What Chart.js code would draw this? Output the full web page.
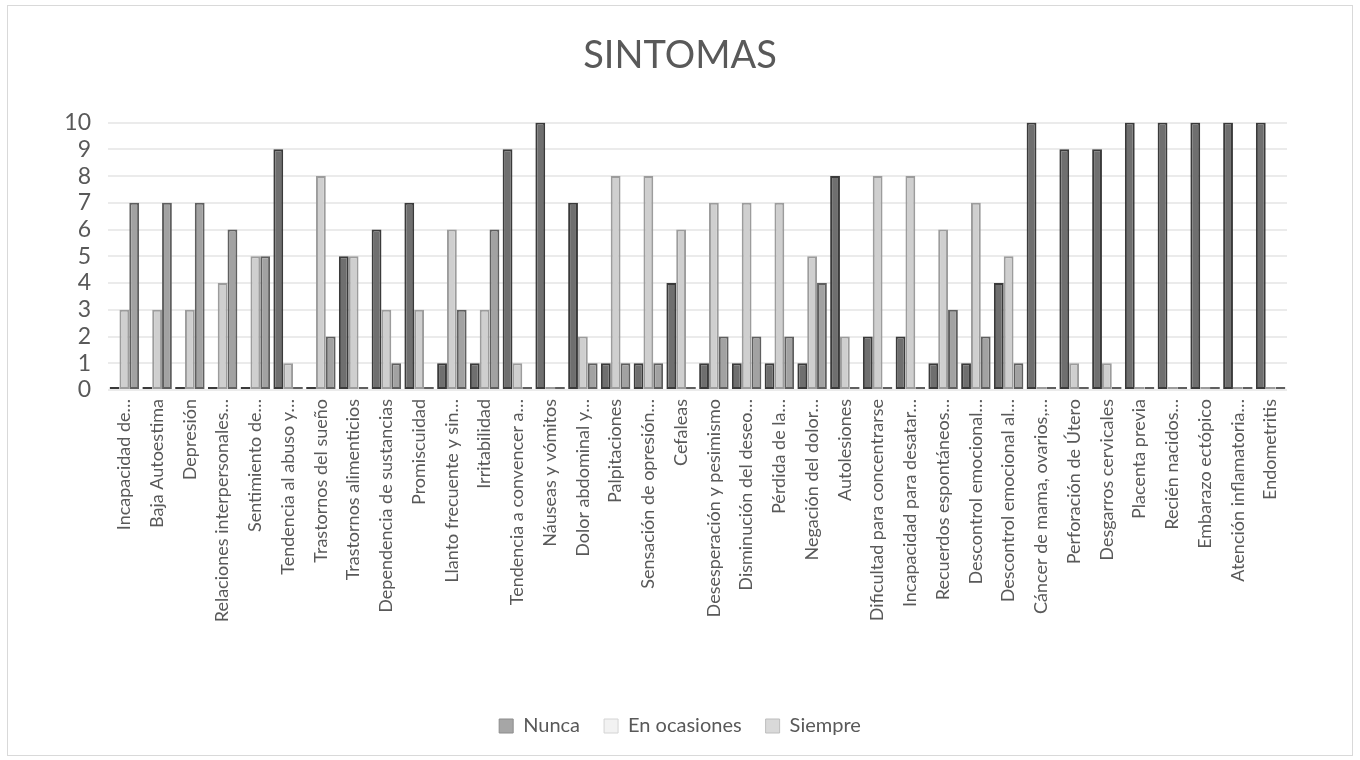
<!DOCTYPE html>
<html lang="es">
<head>
<meta charset="UTF-8">
<title>SINTOMAS</title>
<script src="https://cdn.jsdelivr.net/npm/chart.js@4.4.1/dist/chart.umd.min.js"></script>
<style>
  body { margin: 0; background: #fff; }
  #wrap { position: relative; width: 1360px; height: 760px; }
  #frame { position: absolute; left: 7px; top: 5px; width: 1344px; height: 749px; border: 1px solid #d9d9d9; pointer-events: none; }
</style>
</head>
<body>
<div id="wrap">
  <canvas id="sintomasChart" width="1360" height="760"></canvas>
  <div id="frame"></div>
</div>
<script>
// Categories (labels shortened as in the original sheet)
const sintomas = [
  "Incapacidad de…", "Baja Autoestima", "Depresión", "Relaciones interpersonales…",
  "Sentimiento de…", "Tendencia al abuso y…", "Trastornos del sueño", "Trastornos alimenticios",
  "Dependencia de sustancias", "Promiscuidad", "Llanto frecuente y sin…", "Irritabilidad",
  "Tendencia a convencer a…", "Náuseas y vómitos", "Dolor abdominal y…", "Palpitaciones",
  "Sensación de opresión…", "Cefaleas", "Desesperación y pesimismo", "Disminución del deseo…",
  "Pérdida de la…", "Negación del dolor…", "Autolesiones", "Dificultad para concentrarse",
  "Incapacidad para desatar…", "Recuerdos espontáneos…", "Descontrol emocional…", "Descontrol emocional al…",
  "Cáncer de mama, ovarios,…", "Perforación de Útero", "Desgarros cervicales", "Placenta previa",
  "Recién nacidos…", "Embarazo ectópico", "Atención inflamatoria…", "Endometritis"
];

// Series values
const nunca       = [0, 0, 0, 0, 0, 9, 0, 5, 6, 7, 1, 1, 9, 10, 7, 1, 1, 4, 1, 1, 1, 1, 8, 2, 2, 1, 1, 4, 10, 9, 9, 10, 10, 10, 10, 10];
const enOcasiones = [3, 3, 3, 4, 5, 1, 8, 5, 3, 3, 6, 3, 1, 0, 2, 8, 8, 6, 7, 7, 7, 5, 2, 8, 8, 6, 7, 5, 0, 1, 1, 0, 0, 0, 0, 0];
const siempre     = [7, 7, 7, 6, 5, 0, 2, 0, 1, 0, 3, 6, 0, 0, 1, 1, 1, 0, 2, 2, 2, 4, 0, 0, 0, 3, 2, 1, 0, 0, 0, 0, 0, 0, 0, 0];

// Legend names and y tick range
const seriesNames = ["Nunca", "En ocasiones", "Siempre"];
const yMin = 0;
const yMax = 10;
const yStep = 1;

// Colours: bars are shaded (3D look in the original), legend keeps the flat swatches
const barFill   = ["#6f6f6f", "#cfcfcf", "#a2a2a2"];
const barEdge   = ["#3a3a3a", "#9c9c9c", "#5f5f5f"];
const keyFill   = ["#a6a6a6", "#f2f2f2", "#d9d9d9"];
const keyEdge   = ["#8c8c8c", "#d4d4d4", "#bdbdbd"];

const textGrey = "#595959";
const font = "Lato, 'Open Sans', sans-serif";

const seriesData = [nunca, enOcasiones, siempre];

const datasets = seriesNames.map((name, i) => ({
  label: name,
  data: seriesData[i],
  backgroundColor: barFill[i],
  borderColor: barEdge[i],
  borderWidth: 2,
  borderSkipped: false,
  minBarLength: 3,
  categoryPercentage: 0.9,
  barPercentage: 1.0
}));

const chart = new Chart(document.getElementById("sintomasChart"), {
  type: "bar",
  data: { labels: sintomas, datasets: datasets },
  options: {
    responsive: false,
    animation: false,
    layout: { padding: { left: 0, right: 0, top: 5, bottom: 14 } },
    plugins: {
      title: {
        display: true,
        text: "SINTOMAS",
        color: textGrey,
        font: { family: font, size: 38, weight: "normal" },
        padding: { top: 28, bottom: 44 }
      },
      legend: {
        position: "bottom",
        labels: {
          color: textGrey,
          font: { family: font, size: 20 },
          boxWidth: 14,
          boxHeight: 14,
          padding: 24,
          generateLabels: (c) => seriesNames.map((name, i) => ({
            text: name,
            fillStyle: keyFill[i],
            strokeStyle: keyEdge[i],
            lineWidth: 1,
            fontColor: textGrey,
            hidden: !c.isDatasetVisible(i),
            datasetIndex: i
          }))
        }
      },
      tooltip: { enabled: false }
    },
    scales: {
      x: {
        grid: { display: false, drawTicks: false },
        border: { display: false },
        ticks: {
          color: textGrey,
          font: { family: font, size: 18 },
          minRotation: 90,
          maxRotation: 90,
          autoSkip: false,
          padding: 9
        },
        afterFit: (scale) => { scale.height = 302; }
      },
      y: {
        min: yMin,
        max: yMax,
        grid: { color: "#ebebeb", lineWidth: 2, drawTicks: false },
        border: { display: false },
        ticks: {
          stepSize: yStep,
          autoSkip: false,
          color: textGrey,
          font: { family: font, size: 23 },
          padding: 17
        },
        afterFit: (scale) => { scale.width = 108; }
      },
      // empty spacer on the right so the plot ends where the original does
      spacer: {
        type: "linear",
        position: "right",
        grid: { display: false },
        border: { display: false },
        ticks: { display: false },
        afterFit: (scale) => { scale.width = 73; }
      }
    }
  }
});
</script>
</body>
</html>
